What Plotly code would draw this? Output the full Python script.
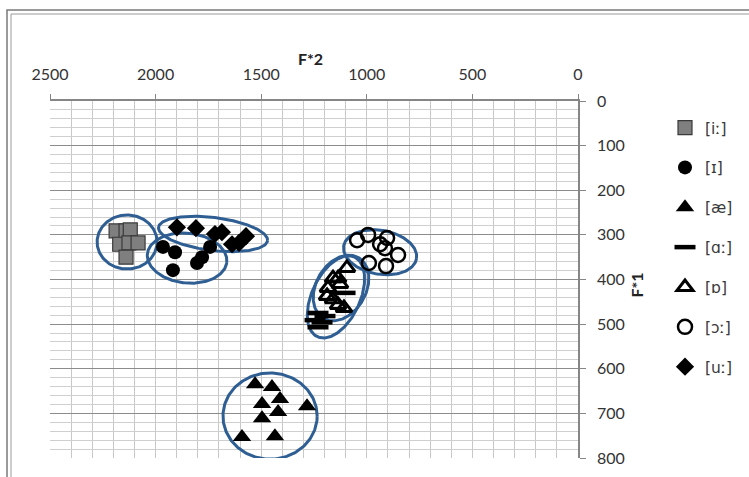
import numpy as np
import plotly.graph_objects as go

# ---- data (F*2, F*1) ----
ii_f2 = [2187, 2140, 2120, 2170, 2126, 2083, 2140]
ii_f1 = [291, 291, 289, 321, 318, 318, 350]

ih_f2 = [1965, 1908, 1918, 1804, 1780, 1742]
ih_f1 = [327, 339, 379, 363, 350, 327]

ae_f2 = [1529, 1449, 1411, 1496, 1420, 1496, 1283, 1591, 1435]
ae_f1 = [635, 641, 668, 679, 697, 711, 684, 753, 751]

aa_f2 = [1103, 1231, 1198, 1245, 1212, 1231]
aa_f1 = [430, 475, 482, 491, 496, 507]

o_f2 = [1094, 1160, 1136, 1127, 1184, 1188, 1160, 1136, 1108]
o_f1 = [374, 397, 397, 410, 419, 437, 444, 457, 464]

oo_f2 = [1046, 994, 937, 914, 904, 852, 990, 909]
oo_f1 = [312, 300, 321, 330, 307, 345, 363, 370]

uu_f2 = [1899, 1809, 1719, 1686, 1638, 1605, 1572]
uu_f1 = [283, 285, 298, 294, 321, 318, 303]

labels = ["[iː]", "[ɪ]", "[æ]", "[ɑː]", "[ɒ]", "[ɔː]", "[uː]"]

# ellipses: centre F2, centre F1, semi-axes (F2-equivalent units), screen angle (deg)
ell_cx = [2135, 1851, 1728, 937, 1146, 1122, 1458]
ell_cy = [316, 352, 298, 339, 439, 419, 706]
ell_a = [142, 189, 260, 175, 208, 166, 223]
ell_b = [128, 118, 78, 104, 114, 118, 204]
ell_t = [0, -6, -7, -10, 65, 60, 0]

X_RANGE = [2500, 0]
Y_RANGE = [800, 0]
W, H = 749, 477
ML, MR, MT, MB = 50, 171, 101, 19
pw, ph = W - ML - MR, H - MT - MB
px_x = pw / 2500.0
px_y = ph / 800.0

fig = go.Figure()

FONT = "Lato, 'DejaVu Sans', sans-serif"
LFONT = "'DejaVu Sans', sans-serif"

# ellipses
ECOL = "#2f5e93"
for cx, cy, a, b, t in zip(ell_cx, ell_cy, ell_a, ell_b, ell_t):
    phi = np.linspace(0, 2 * np.pi, 200)
    th = np.radians(t)
    dx = a * np.cos(phi) * np.cos(th) - b * np.sin(phi) * np.sin(th)
    dy = a * np.cos(phi) * np.sin(th) + b * np.sin(phi) * np.cos(th)
    xs = cx - dx
    ys = cy - dy * px_x / px_y
    fig.add_trace(go.Scatter(x=xs, y=ys, mode="lines",
                             line=dict(color=ECOL, width=3),
                             showlegend=False, hoverinfo="skip"))

series = [
    (ii_f2, ii_f1, dict(symbol="square", size=14, color="#7f7f7f",
                        line=dict(color="#3a3a3a", width=1.2))),
    (ih_f2, ih_f1, dict(symbol="circle", size=14, color="black")),
    (ae_f2, ae_f1, dict(symbol="triangle-up", size=16, color="black")),
    (aa_f2, aa_f1, dict(symbol="line-ew", size=15, color="black",
                        line=dict(color="black", width=4.5))),
    (o_f2, o_f1, dict(symbol="triangle-up-open", size=14, color="black",
                      line=dict(color="black", width=3))),
    (oo_f2, oo_f1, dict(symbol="circle-open", size=14, color="black",
                        line=dict(color="black", width=2.5))),
    (uu_f2, uu_f1, dict(symbol="diamond", size=14, color="black")),
]
for (xs, ys, mk), lab in zip(series, labels):
    fig.add_trace(go.Scatter(x=xs, y=ys, mode="markers", marker=mk,
                             name=lab, legendgroup=lab))

fig.update_layout(
    width=W, height=H,
    margin=dict(l=ML, r=MR, t=MT, b=MB, autoexpand=False),
    paper_bgcolor="white", plot_bgcolor="white",
    font=dict(family=FONT, size=16, color="#333333"),
    legend=dict(x=(665 - ML) / pw, y=1 - (111 - MT) / ph, xanchor="left", yanchor="top",
                font=dict(size=15.5, family=LFONT, color="#3a3a3a"),
                tracegroupgap=16.7, itemwidth=30, bgcolor="rgba(0,0,0,0)"),
    xaxis=dict(range=X_RANGE, side="top", tickvals=[2500, 2000, 1500, 1000, 500, 0],
               ticks="outside", ticklen=5, tickcolor="#868686",
               showline=True, linecolor="#868686", linewidth=1.5,
               showgrid=True, gridcolor="#c8c8c8", gridwidth=1,
               minor=dict(dtick=100, showgrid=True, gridcolor="#c8c8c8", gridwidth=1),
               zeroline=False, ticklabelstandoff=8, automargin=False),
    yaxis=dict(range=Y_RANGE, side="right", dtick=100,
               ticks="outside", ticklen=6, tickcolor="#868686",
               showline=True, linecolor="#868686", linewidth=1.5,
               showgrid=True, gridcolor="#8c8c8c", gridwidth=1,
               minor=dict(dtick=20, showgrid=True, gridcolor="#cfcfcf", gridwidth=1),
               zeroline=False, ticklabelstandoff=8, automargin=False),
    annotations=[
        dict(text="<b>F*2</b>", xref="paper", yref="paper",
             x=(310 - ML) / pw, y=1 + (MT - 47) / ph, showarrow=False,
             font=dict(size=16, family=FONT, color="#222")),
        dict(text="<b>F*1</b>", xref="paper", yref="paper",
             x=(647 - ML) / pw, y=1 - (285 - MT) / ph, showarrow=False,
             textangle=-90, font=dict(size=16, family=FONT, color="#222")),
    ],
    shapes=[
        dict(type="rect", xref="paper", yref="paper",
             x0=(7 - ML) / pw, x1=(760 - ML) / pw,
             y0=1 - (490 - MT) / ph, y1=1 + (MT - 10) / ph,
             line=dict(color="#7a7a7a", width=1.5), layer="below"),
        dict(type="rect", xref="paper", yref="paper",
             x0=(11 - ML) / pw, x1=(756 - ML) / pw,
             y0=1 - (486 - MT) / ph, y1=1 + (MT - 14) / ph,
             line=dict(color="#9a9a9a", width=1), layer="below"),
    ],
)

fig.write_html("out.html", config={"displayModeBar": False},
               post_script="document.body.style.margin='0';document.body.style.overflow='hidden';")
